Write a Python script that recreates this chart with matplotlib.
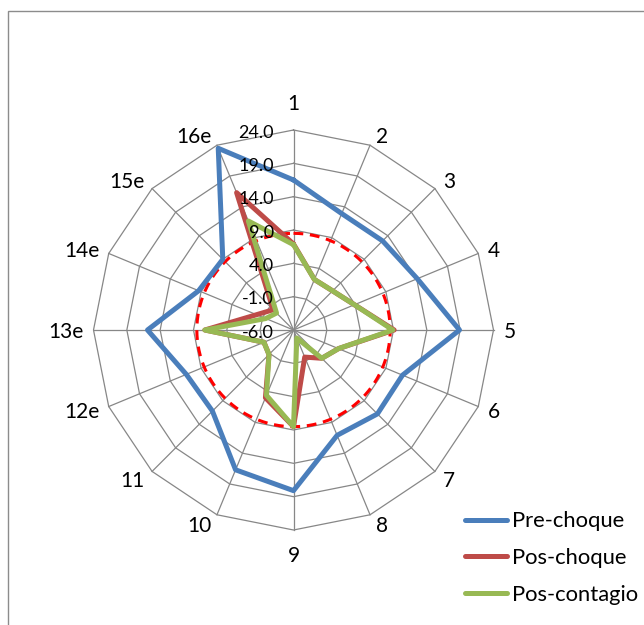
import numpy as np
import matplotlib
matplotlib.use("Agg")
import matplotlib.pyplot as plt
from matplotlib.patches import Rectangle
from matplotlib.lines import Line2D

plt.rcParams["font.family"] = ["Lato", "DejaVu Sans"]

# Radar categories, clockwise from the top
categories = ["1", "2", "3", "4", "5", "6", "7", "8", "9",
              "10", "11", "12e", "13e", "14e", "15e", "16e"]

pre_choque = [16.5, 12.9, 12.9, 14.1, 18.9, 11.7, 11.8, 11.1,
              18.1, 16.7, 11.2, 11.4, 15.9, 9.4, 9.0, 23.5]
pos_choque = [6.9, 2.2, 2.3, 3.9, 9.1, 1.3, 0.0, -1.6,
              8.5, 5.0, -0.8, -1.2, 7.3, 0.0, -1.7, 16.3]
pos_contagio = [6.8, 2.2, 2.3, 3.9, 8.9, 1.3, 0.0, -4.7,
                8.5, 4.6, -0.8, -1.2, 7.3, -1.5, -2.4, 11.7]

series_names = ["Pre-choque", "Pos-choque", "Pos-contagio"]
series_colors = ["#4A7EBB", "#BE4B48", "#98B954"]

ring_values = [-6, -1, 4, 9, 14, 19, 24]
ring_labels = ["-6.0", "-1.0", "4.0", "9.0", "14.0", "19.0", "24.0"]
reference_level = 8.5

GRID = "#878787"
PX = 0.72  # points per pixel at 100 dpi

W, H = 644, 625
fig = plt.figure(figsize=(W / 100, H / 100), dpi=100)
fig.patch.set_facecolor("white")

# chart-area border (runs off the right and bottom edges)
fig.add_artist(Rectangle((7.5 / W, -0.05), 1.0, (H - 10.5) / H + 0.05,
                         transform=fig.transFigure, fill=False,
                         ec="#8c8c8c", lw=1.0))

cx, cy, R = 293.5, 330.0, 200.0
ax = fig.add_axes([(cx - R) / W, (H - cy - R) / H, 2 * R / W, 2 * R / H],
                  projection="polar")
ax.set_theta_zero_location("N")
ax.set_theta_direction(-1)
ax.set_ylim(ring_values[0], ring_values[-1])
ax.grid(False)
ax.set_xticks([])
ax.set_yticks([])
ax.spines["polar"].set_visible(False)
ax.patch.set_alpha(0)

n = len(categories)
theta = np.linspace(0, 2 * np.pi, n, endpoint=False)
closed = np.append(theta, theta[0])

# polygonal grid rings and spokes
for v in ring_values:
    ax.plot(closed, [v] * (n + 1), color=GRID, lw=0.9, zorder=1, clip_on=False)
for t in theta:
    ax.plot([t, t], [ring_values[0], ring_values[-1]], color=GRID, lw=0.9,
            zorder=1, clip_on=False)

# dashed reference circle
circ = np.linspace(0, 2 * np.pi, 361)
ax.plot(circ, [reference_level] * len(circ), color="#FF0000", lw=2.2,
        dashes=(3.2, 2.2), zorder=2, clip_on=False)

# data series
for vals, name, col in zip([pre_choque, pos_choque, pos_contagio],
                           series_names, series_colors):
    ax.plot(closed, np.append(vals, vals[0]), color=col, lw=3.6,
            solid_joinstyle="round", solid_capstyle="round", zorder=3,
            label=name, clip_on=False)

# radial value labels along the first spoke
for v, lbl in zip(ring_values, ring_labels):
    ax.annotate(lbl, xy=(0, v), xytext=(-14, -2), textcoords="offset points",
                ha="right", va="center", fontsize=13, color="black", zorder=4)

# category labels just outside the outer ring
for t, cat in zip(theta, categories):
    s, c = np.sin(t), np.cos(t)
    if abs(s) < 1e-6:
        dx, dy = 0.0, (24.0 if c > 0 else -27.0)
        ha = "center"
    else:
        gap = 3 + 7 * abs(s)
        dx = gap if s > 0 else -gap
        dy = 11 * c - 3
        ha = "left" if s > 0 else "right"
    ax.annotate(cat, xy=(t, ring_values[-1]), xytext=(dx * PX, (dy + 1.5) * PX),
                textcoords="offset points", ha=ha, va="center",
                fontsize=15, color="black")

handles = [Line2D([], [], color=c, lw=3.6, solid_capstyle="round")
           for c in series_colors]
fig.legend(handles, series_names, loc="center left",
           bbox_to_anchor=(465 / W, 1 - 558 / H), frameon=False,
           fontsize=15.8, handlelength=1.9, handletextpad=0.26,
           labelspacing=0.76, borderpad=0, borderaxespad=0)

fig.savefig("out.png", dpi=100, facecolor="white")
